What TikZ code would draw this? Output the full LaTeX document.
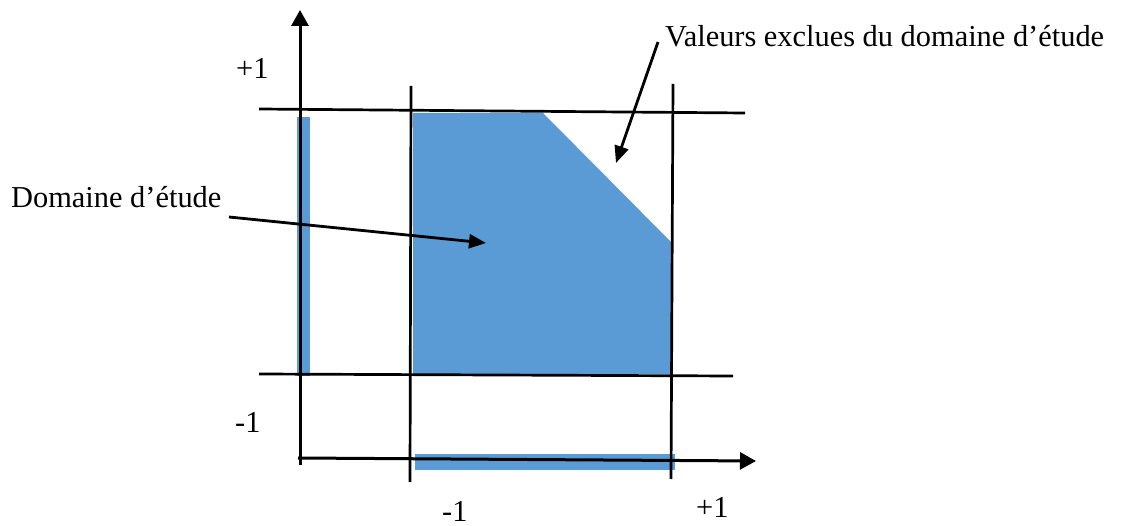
\documentclass[tikz,border=0pt]{standalone}
\usepackage{fontspec}
\setmainfont{Liberation Serif}
\usetikzlibrary{arrows.meta}
\definecolor{fillblue}{HTML}{5B9BD5}
\begin{document}
\begin{tikzpicture}[x=1pt,y=-1pt,
  gridline/.style={line width=2.7pt},
  axisline/.style={line width=3pt, -{Triangle[width=17pt,length=16pt]}},
  pointer/.style={line width=2.8pt, -{Triangle[width=14pt,length=17pt]}},
  lbl/.style={inner sep=0pt, font=\fontsize{30.4}{36}\selectfont},
  zonefill/.style={fill=fillblue, draw=none}]
\useasboundingbox (0,0) rectangle (1141,526);
% filled zones
\fill[zonefill] (413,113) -- (543,113) -- (672,243) -- (672,374) -- (413,374) -- cycle;
\fill[zonefill] (297,117) rectangle (310,376);
\fill[zonefill] (415,454) rectangle (675,470);
% grid lines
\coordinate (tl) at (259,109); \coordinate (tr) at (745,113);
\coordinate (bl) at (259,374); \coordinate (br) at (733,376);
\coordinate (lt) at (411,86);  \coordinate (lb) at (410,482);
\coordinate (rt) at (673,84);  \coordinate (rb) at (671,479);
\draw[gridline] (tl) -- (tr);
\draw[gridline] (bl) -- (br);
\draw[gridline] (lt) -- (lb);
\draw[gridline] (rt) -- (rb);
% axes
\coordinate (yaxb) at (300,465); \coordinate (yaxt) at (300,10);
\coordinate (xaxl) at (298,458); \coordinate (xaxr) at (756,461);
\draw[axisline] (yaxb) -- (yaxt);
\draw[axisline] (xaxl) -- (xaxr);
% tick labels
\node[lbl, anchor=base west] (ptop) at (236,79) {+1};
\node[lbl, anchor=base west] (mleft) at (235,433) {-1};
\node[lbl, anchor=base west] (mbot) at (442,521) {-1};
\node[lbl, anchor=base west] (pbot) at (696,517) {+1};
% annotations
\node[lbl, anchor=base west] (excl) at (665,47) {Valeurs exclues du domaine d’étude};
\node[lbl, anchor=base west] (dom) at (11,208) {Domaine d’étude};
\coordinate (exclstart) at (658,42); \coordinate (excltip) at (616,163);
\coordinate (domstart) at (229,217); \coordinate (domtip) at (486,243);
\draw[pointer] (exclstart) -- (excltip);
\draw[pointer] (domstart) -- (domtip);
\end{tikzpicture}
\end{document}
